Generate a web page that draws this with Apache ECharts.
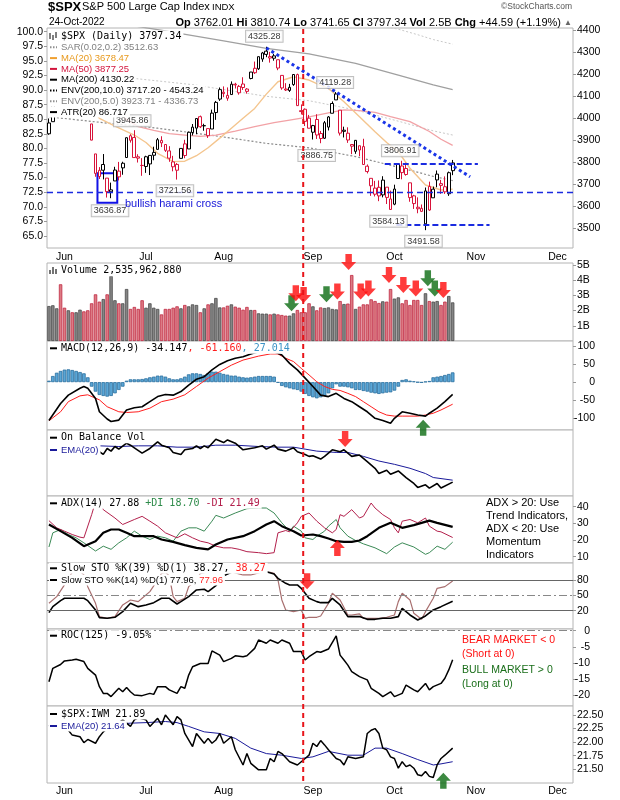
<!DOCTYPE html>
<html><head><meta charset="utf-8">
<script src="https://cdn.jsdelivr.net/npm/echarts@6/dist/echarts.min.js"></script>
<style>html,body{margin:0;padding:0;background:#fff}#c{width:620px;height:800px}</style>
</head><body><div id="c"></div>
<script>
// ---------------- DATA ----------------
const tradeDates = ['05-25','05-26','05-27','05-31','06-01','06-02','06-03','06-06','06-07','06-08','06-09','06-10','06-13','06-14','06-15','06-16','06-17','06-21','06-22','06-23','06-24','06-27','06-28','06-29','06-30','07-01','07-05','07-06','07-07','07-08','07-11','07-12','07-13','07-14','07-15','07-18','07-19','07-20','07-21','07-22','07-25','07-26','07-27','07-28','07-29','08-01','08-02','08-03','08-04','08-05','08-08','08-09','08-10','08-11','08-12','08-15','08-16','08-17','08-18','08-19','08-22','08-23','08-24','08-25','08-26','08-29','08-30','08-31','09-01','09-02','09-06','09-07','09-08','09-09','09-12','09-13','09-14','09-15','09-16','09-19','09-20','09-21','09-22','09-23','09-26','09-27','09-28','09-29','09-30','10-03','10-04','10-05','10-06','10-07','10-10','10-11','10-12','10-13','10-14','10-17','10-18','10-19','10-20','10-21','10-24'];
const prevClose0 = 3941.48;
const open = [3929.59,3984.60,4077.43,4151.09,4149.78,4095.41,4137.57,4134.72,4096.47,4147.12,4101.65,3974.39,3838.15,3763.52,3764.05,3728.18,3665.90,3715.31,3733.89,3774.71,3821.75,3920.76,3913.00,3825.09,3785.99,3781.00,3792.61,3831.98,3858.85,3888.26,3880.94,3851.95,3779.67,3763.99,3818.00,3883.79,3860.73,3935.32,3955.47,4007.36,3965.72,3953.22,3951.43,4026.13,4087.33,4112.38,4104.21,4107.96,4154.85,4115.87,4155.93,4133.11,4181.02,4227.40,4225.02,4269.37,4290.46,4280.40,4273.13,4266.31,4195.08,4133.09,4126.55,4153.26,4198.74,4034.58,4041.25,4000.67,3936.73,3994.66,3930.89,3909.43,3959.94,4022.94,4083.67,4037.12,3940.73,3932.41,3880.95,3849.91,3875.23,3871.40,3782.36,3727.14,3682.72,3686.44,3651.94,3687.01,3633.48,3609.78,3726.46,3753.25,3771.97,3706.74,3647.51,3595.86,3590.83,3520.37,3690.41,3638.65,3746.26,3703.11,3689.05,3657.10,3762.01];
const high = [3999.33,4075.14,4158.49,4168.34,4166.54,4177.51,4142.67,4168.78,4164.86,4160.14,4119.10,3974.39,3838.15,3778.18,3837.56,3728.18,3707.71,3779.65,3801.79,3802.58,3913.65,3927.72,3945.86,3836.50,3818.99,3829.82,3832.19,3870.91,3910.63,3918.50,3880.94,3873.41,3829.44,3796.41,3863.62,3902.44,3939.81,3974.13,3999.29,4012.44,3975.30,3953.22,4039.56,4078.95,4140.15,4144.95,4140.47,4167.66,4161.29,4151.58,4186.62,4137.30,4211.03,4257.91,4280.47,4301.79,4325.28,4302.18,4292.53,4266.31,4195.08,4159.77,4156.56,4200.54,4203.04,4062.99,4044.98,4015.37,3970.23,4018.43,3942.55,3987.89,4010.50,4076.81,4119.28,4037.12,3961.94,3959.14,3880.95,3900.45,3876.01,3907.07,3790.28,3727.14,3715.67,3717.53,3736.74,3687.01,3671.44,3698.35,3791.92,3806.91,3797.93,3706.74,3652.17,3640.66,3608.34,3685.41,3712.00,3689.73,3762.79,3720.06,3736.00,3757.89,3810.74];
const low = [3925.03,3984.60,4077.43,4104.88,4073.85,4074.37,4098.67,4109.18,4080.19,4107.20,4017.17,3900.16,3734.30,3724.17,3722.30,3639.77,3636.87,3715.31,3717.69,3743.52,3821.75,3889.66,3820.14,3799.02,3738.67,3752.10,3742.06,3809.37,3858.85,3869.34,3847.22,3802.36,3759.07,3721.56,3817.18,3818.63,3860.73,3922.03,3927.64,3955.77,3943.46,3910.74,3951.43,3992.97,4079.22,4096.02,4079.81,4107.96,4135.42,4107.31,4128.97,4112.09,4177.26,4201.41,4219.78,4256.90,4277.77,4253.08,4261.98,4218.70,4129.86,4124.03,4119.97,4147.59,4057.66,4017.42,3965.21,3954.53,3903.65,3906.21,3886.75,3906.03,3944.81,4022.94,4083.67,3921.73,3912.86,3888.28,3837.08,3838.50,3827.54,3789.49,3749.45,3647.47,3644.76,3623.29,3640.61,3610.40,3584.13,3604.93,3726.46,3722.66,3739.22,3620.73,3588.10,3568.45,3573.86,3491.58,3579.68,3638.65,3686.53,3656.44,3656.28,3647.42,3741.65];
const close = [3978.73,4057.84,4158.24,4132.15,4101.23,4176.82,4108.54,4121.43,4160.68,4115.77,4017.82,3900.86,3749.63,3735.48,3789.99,3666.77,3674.84,3764.79,3759.89,3795.73,3911.74,3900.11,3821.55,3818.83,3785.38,3825.33,3831.39,3845.08,3902.62,3899.38,3854.43,3818.80,3801.78,3790.38,3863.16,3830.85,3936.69,3959.90,3998.95,3961.63,3966.84,3921.05,4023.61,4072.43,4130.29,4118.63,4091.19,4155.17,4151.94,4145.19,4140.06,4122.47,4210.24,4207.27,4280.15,4297.14,4305.20,4274.04,4283.74,4228.48,4137.99,4128.73,4140.77,4199.12,4057.66,4030.61,3986.16,3955.00,3966.85,3924.26,3908.19,3979.87,4006.18,4067.36,4110.41,3932.69,3946.01,3901.35,3873.33,3899.89,3855.93,3789.93,3757.99,3693.23,3655.04,3647.29,3719.04,3640.47,3585.62,3678.43,3790.93,3783.28,3744.52,3639.66,3612.39,3588.84,3577.03,3669.91,3583.07,3677.95,3719.98,3695.16,3665.78,3752.75,3797.34];
// volume, billions
const volume = [2.30,2.35,2.15,3.73,2.19,2.02,1.89,1.89,2.06,1.95,2.02,2.48,3.07,2.59,2.76,3.07,4.28,2.68,2.48,2.48,3.42,2.11,2.24,2.11,2.68,2.19,2.48,2.19,2.11,1.75,2.11,2.11,2.19,2.28,2.15,2.37,2.28,2.41,2.37,1.89,2.15,2.41,2.48,2.83,2.21,2.21,2.32,2.41,2.26,2.19,2.06,2.24,2.04,2.04,1.82,1.80,1.80,1.75,1.80,1.75,1.71,1.67,1.67,1.82,2.04,1.89,1.89,2.48,2.28,2.02,2.21,2.17,2.21,2.11,2.08,2.63,2.43,2.46,4.34,2.11,2.26,2.41,2.41,2.74,2.63,2.50,2.61,2.59,3.42,2.79,2.87,2.48,2.70,2.37,2.70,2.70,2.37,3.14,2.63,2.59,2.63,2.37,2.59,2.96,2.54];
// overlays [day index, value]
const ma20 = [[8,4065],[11,4045],[13,4000],[17,3965],[22,3924],[25,3890],[28,3841],[32,3803],[35,3805],[38,3830],[41,3866],[44,3910],[47,3955],[50,4000],[53,4045],[56,4110],[59,4166],[63,4189],[67,4174],[70,4150],[72,4136],[76,4075],[80,4007],[84,3939],[87,3890],[90,3848],[93,3773],[97,3697],[101,3674],[104,3678]];
const ma50 = [[10,4110],[15,4060],[20,3995],[23,3962],[27,3945],[31,3930],[35,3924],[39,3918],[43,3924],[48,3942],[53,3962],[58,3980],[62,3992],[67,4007],[72,4025],[76,4038],[80,4035],[84,4027],[88,4008],[93,3985],[98,3940],[101,3905],[104,3877]];
const ma200 = [[22,4420],[30,4397],[34,4385],[45,4352],[56,4318],[67,4293],[79,4250],[90,4196],[99,4152],[104,4130]];
const env10Lower = [[0,4007],[14,3980],[28,3955],[45,3915],[56,3886],[67,3866],[79,3826],[90,3778],[99,3736],[104,3717]];
const env5Lower = [[0,4228],[20,4185],[37,4153],[56,4100],[67,4080],[79,4038],[90,3987],[99,3943],[104,3924]];
const env5Upper = [[87,4415],[90,4405],[95,4380],[99,4358],[104,4337]];
// annotations
const trendLine = [[56,4320],[108.5,3734]];
const supportLevel = 3662;
const resistSeg = [[86.5,3793],[110.5,3793]];
const lowSeg = [[89.5,3515],[113.5,3515]];
const haramiBox = [[12.5,3750],[17.6,3616]];
const noteIdx = [56,23,16,34,70,74,91,88,97];
const noteVal = [4325.28,3945.86,3636.87,3721.56,3886.75,4119.28,3806.91,3584.13,3491.58];
const markerDay = 65.5;
// MACD
const macdLine = [[0,-106],[3,-59],[5,-36],[8,-17],[9,-12],[10,-17],[12,-45],[13,-82],[15,-102],[16,-109],[18,-105],[20,-77],[22,-71],[24,-68],[26,-54],[28,-40],[30,-34],[32,-36],[34,-26],[36,-8],[38,8],[40,15],[42,34],[44,49],[46,59],[48,66],[50,70],[52,78],[54,84],[56,88],[58,84],[60,75],[62,52],[64,34],[66,11],[68,-12],[70,-36],[72,-40],[74,-31],[76,-45],[78,-54],[80,-68],[82,-82],[84,-100],[86,-106],[88,-114],[89,-100],[91,-82],[93,-86],[95,-91],[97,-94],[98,-86],[100,-72],[101,-63],[102,-54],[104,-34]];
const macdSignal = [[0,-107],[3,-82],[5,-54],[8,-38],[10,-35],[13,-49],[15,-68],[18,-82],[20,-84],[23,-82],[26,-72],[29,-54],[32,-47],[35,-35],[38,-12],[41,11],[44,29],[47,47],[50,61],[54,72],[57,78],[59,78],[61,66],[63,57],[65,38],[67,20],[69,1],[71,-12],[73,-20],[75,-23],[77,-31],[79,-40],[81,-54],[83,-68],[85,-82],[87,-91],[89,-94],[91,-94],[93,-94],[95,-94],[97,-91],[99,-86],[101,-77],[104,-61]];
const macdHist = [4,17,26,31,34.6,35.5,33.6,31,28,24.4,13.4,-12.5,-26.3,-35.5,-38.3,-40.1,-38.3,-31,-21.7,-12.5,4,7.8,7.8,7.8,8.7,10.6,13.4,15.2,18,18,15.2,10.6,7.8,7.8,10.6,15.2,21.6,24.4,24.4,22.6,19.8,24.4,29,29,26,22.6,20.7,18,18,15.2,13.4,12.4,13.4,15.2,17,17,17,17,15.2,-1.4,-10.6,-14.3,-17.1,-19.9,-21.7,-26.3,-32.7,-38.3,-42,-44.8,-42,-38.3,-31,-17.1,-6,-12.5,-12.5,-14.3,-17.1,-21.7,-21.7,-24.5,-26.3,-29.1,-31,-32.7,-31,-29.1,-28.2,-23.5,-12.5,6,7.8,4,2.3,-0.5,-1.4,1.4,3.2,13.4,15.2,17,19.8,22.6,27];
// On Balance Volume (relative units, no scale shown)
const obv = [[13,67],[14,63],[15,72],[16,68],[17,75],[18,71],[20,80],[21,77],[22,73],[24,65],[26,72],[28,82],[29,77],[31,73],[32,66],[34,63],[35,70],[37,72],[38,76],[39,72],[40,76],[41,73],[43,86],[45,81],[46,85],[48,80],[50,70],[53,73],[55,76],[56,71],[58,77],[59,71],[61,68],[63,73],[64,67],[66,63],[67,60],[68,61],[70,56],[71,60],[73,70],[75,67],[76,70],[78,60],[80,62],[82,52],[84,42],[85,34],[87,39],[88,33],[90,38],[92,28],[94,19],[95,13],[97,17],[98,12],[100,19],[101,12],[104,21]];
const obvEma = [[13,76],[18,75],[23,76],[28,76],[33,74],[38,74],[43,77],[48,77],[54,75],[59,74],[63,74],[66,71],[69,68],[74,66],[77,66],[81,60],[85,53],[89,48],[93,42],[97,34],[99,28],[104,24]];
// ADX
const adx = [[0,29.3],[3,25.3],[6,21.3],[9,16.3],[12,19.3],[14,24.3],[16,26.3],[18,26.3],[20,24.3],[22,22.3],[24,22.3],[27,22.3],[29,20.3],[32,18.9],[35,16.9],[38,15.3],[41,14.4],[43,17.3],[46,20.3],[50,22.3],[53,25.3],[56,29.3],[58,31.3],[60,28.3],[63,25.3],[65,22.7],[68,23.3],[70,22.3],[72,20.9],[74,19.3],[76,18.9],[78,18.9],[80,19.7],[82,22.3],[85,27.3],[88,30.3],[91,27.3],[94,28.9],[98,31.6],[100,30.3],[104,27.9]];
const plusDI = [[0,15.8],[1,24.3],[3,26.3],[5,23.3],[7,21.3],[9,18.3],[12,13.4],[14,16.3],[16,14.4],[18,18.3],[20,21.3],[22,25.3],[24,22.3],[26,20.3],[28,22.3],[30,21.3],[32,19.3],[34,25.3],[36,27.3],[38,27.3],[40,25.3],[42,31.3],[43,34.8],[45,33.2],[48,36.2],[51,38.8],[54,39.2],[56,39.2],[58,36.2],[60,30.3],[62,25.3],[63,28.3],[65,25.3],[66,21.3],[68,20.3],[69,22.3],[71,25.3],[72,28.3],[74,32.3],[75,27.3],[77,22.3],[79,19.7],[81,17.7],[84,15.3],[87,11.8],[89,15.8],[91,18.3],[94,15.8],[97,11.4],[98,12.4],[100,16.3],[102,14.4],[104,18.7]];
const minusDI = [[0,31.6],[2,27.3],[4,25.3],[6,23.3],[8,21.7],[9,21.3],[11,35.2],[12,43],[13,44],[14,38.2],[17,33.2],[19,29.3],[22,32.3],[24,34.2],[26,31.3],[28,28.3],[30,24.3],[33,21.3],[35,23.7],[37,21.3],[39,19.3],[41,18.3],[43,16.3],[45,15.3],[47,15.3],[49,14.4],[51,13],[54,12.4],[56,11.8],[58,12.4],[59,24.3],[61,25.7],[62,24.9],[64,30.3],[65,34.2],[67,36.2],[69,31.3],[71,27.3],[73,24.3],[74,26.3],[75,35.2],[76,34.2],[78,38.2],[80,33.2],[81,34.2],[83,42.2],[84,39.2],[86,35.2],[88,32.3],[89,27.3],[90,24.3],[91,31.3],[93,32.3],[95,30.3],[97,33.2],[98,28.3],[100,25.3],[101,24.9],[104,21.5]];
// Slow stochastics
const sto39 = [[0,16.2],[1,27.9],[3,39.6],[4,44.2],[6,44.2],[9,44.2],[10,39.6],[12,21.4],[13,6.4],[15,5.1],[17,7.1],[19,18.1],[21,34.4],[23,27.9],[25,31.2],[27,35.7],[29,44.2],[31,44.2],[33,33.1],[34,37.7],[36,47.4],[38,60.5],[40,61.8],[41,57.2],[43,69],[44,78],[45,88],[47,95],[50,97],[53,98],[56,96],[58,91.7],[59,83.3],[61,73.5],[62,70.3],[64,70.3],[65,63.7],[66,54],[67,44.2],[69,37.7],[70,35.7],[72,35.7],[73,44.2],[75,31.2],[77,8.4],[78,8.4],[80,8.4],[82,3.1],[84,3.1],[86,5.1],[88,5.1],[90,8.4],[91,24.6],[93,11.6],[95,1.8],[97,9.7],[99,21.4],[101,27.9],[104,38.3]];
const sto14 = [[0,34.4],[2,47.4],[4,70.3],[5,83.3],[6,95],[8,97],[9,90],[10,67],[12,34.4],[13,8.4],[15,5.1],[17,8.4],[19,31.2],[21,40.9],[23,37.7],[24,44.2],[26,57.2],[28,80],[29,93],[30,95],[31,88],[32,47.4],[33,37.7],[35,44.2],[36,67],[38,80],[39,93],[41,96],[43,95],[45,97],[47,96],[49,92],[50,89.8],[52,89.8],[53,92],[55,96],[57,95],[58,93],[59,80],[60,41],[61,21.4],[63,18.1],[65,21.4],[66,5.1],[67,7.1],[69,7.1],[70,9.7],[72,34.4],[73,54],[75,41],[77,11.6],[78,11.6],[80,13.6],[81,5.1],[83,5.1],[85,5.1],[87,7.1],[89,11.6],[90,37.7],[91,54],[93,41],[94,14.9],[96,3.1],[97,18.1],[99,44.2],[100,63.7],[102,67],[104,78]];
// ROC(125)
const roc = [[0,-15.9],[1,-11.7],[3,-10.5],[4,-9.4],[6,-9.1],[7,-8.9],[9,-9.6],[10,-11.7],[12,-13.8],[13,-17.4],[14,-19.5],[15,-19.5],[16,-20.5],[18,-17.9],[19,-19],[20,-17.7],[21,-19],[22,-20],[24,-20.2],[26,-19.5],[27,-19.8],[28,-17.4],[30,-17.4],[31,-18.4],[33,-19.5],[34,-17.4],[35,-17.9],[36,-13.8],[37,-11.2],[39,-10.2],[41,-10.2],[42,-6.3],[44,-7.6],[45,-9.6],[47,-8.6],[48,-7.8],[50,-8.1],[51,-7.8],[53,-5.5],[54,-2.9],[56,-3.9],[57,-2.9],[59,-3.9],[60,-2.9],[62,-3.9],[63,-6.5],[65,-6.5],[66,-9.1],[67,-8.1],[69,-6.5],[70,-6.7],[72,-5.7],[74,-1.6],[75,-7.6],[76,-9.1],[77,-10.7],[78,-12.7],[80,-14.3],[82,-15.3],[83,-17.9],[85,-19.5],[86,-20.5],[88,-19],[89,-20.5],[91,-19.5],[92,-16.9],[94,-18.4],[95,-19],[97,-16.4],[98,-18.4],[99,-17.4],[101,-16.4],[102,-14.8],[103,-12.2],[104,-9.05]];
// $SPX:IWM ratio
const ratio = [[0,22.3],[2,22.32],[4,22.27],[5,22.22],[6,22.13],[8,22.1],[9,21.99],[10,22.05],[12,21.98],[13,22.1],[14,22.19],[15,22.25],[17,22.3],[19,22.41],[21,22.29],[22,22.41],[23,22.45],[24,22.43],[25,22.41],[26,22.29],[28,22.44],[29,22.32],[30,22.5],[31,22.41],[32,22.32],[33,22.47],[34,22.41],[35,22.16],[37,21.92],[38,22.16],[40,21.98],[41,22.07],[42,21.98],[43,22.04],[44,22.16],[45,21.98],[47,22.1],[48,21.86],[50,21.58],[51,21.79],[52,21.61],[54,21.49],[56,21.49],[57,21.7],[58,21.64],[59,21.83],[60,21.79],[62,21.64],[64,21.58],[65,21.64],[66,21.7],[67,21.76],[68,21.98],[69,21.92],[70,22.03],[71,21.95],[72,21.86],[74,21.7],[75,21.67],[76,21.58],[77,21.73],[79,21.7],[81,21.73],[82,22.16],[83,22.22],[84,22.25],[85,22.16],[86,21.89],[87,21.86],[88,21.73],[89,21.7],[90,21.52],[91,21.64],[92,21.55],[93,21.58],[94,21.52],[95,21.4],[96,21.38],[97,21.46],[98,21.37],[99,21.35],[100,21.58],[101,21.7],[102,21.76],[104,21.89]];
const ratioEma = [[0,22.3],[10,22.32],[19,22.34],[21,22.35],[25,22.36],[30,22.38],[33,22.36],[36,22.29],[40,22.19],[44,22.16],[48,22.07],[52,21.89],[56,21.79],[60,21.76],[65,21.7],[68,21.73],[72,21.83],[77,21.76],[81,21.76],[84,21.89],[87,21.89],[91,21.79],[95,21.68],[99,21.58],[101,21.6],[104,21.64]];
// signal arrows
const volSigIdx = [62.5,63.6,65.6,71.5,74.3,77.2,80.3,82.3,87.6,91.3,94.5,97.6,99.4,101.6];
const volSigVal = [2.48,3.14,3.03,3.07,3.25,5.2,3.25,3.46,4.34,3.68,3.46,4.12,3.46,3.36];
const volSigType = ['buy','sell','sell','buy','sell','sell','sell','sell','sell','sell','sell','buy','buy','sell'];
const macdSig = [96.4,-126.5], obvSig = [76.3,86.4], adxSig = [74.3,15.2], stoSig = [66.5,77.5], ratioSig = [101.6,21.29];
// axis ticks
const monthIdx = [4,25,45,68,89,110,131];
const monthNames = ['Jun','Jul','Aug','Sep','Oct','Nov','Dec'];
const priceTicks = [3500,3600,3700,3800,3900,4000,4100,4200,4300,4400];
const pctTicks = [65,67.5,70,72.5,75,77.5,80,82.5,85,87.5,90,92.5,95,97.5,100];
const volTicks = [1,2,3,4,5];
const macdTicks = [-100,-50,0,50,100];
const adxTicks = [10,20,30,40];
const stoTicks = [20,50,80];
const rocTicks = [-20,-15,-10,-5,0];
const ratioTicks = [21.5,21.75,22,22.25,22.5];

// ---------------- CHART ----------------
const FS = '"Liberation Sans", Arial, sans-serif';
const MONO = '"DejaVu Sans Mono", monospace';
const RED = '#d8133a';
const panels = [[28,220],[263,78],[341,89],[430,66],[496,67],[563,66],[629,77],[706,77]];
const grid = panels.map(p => ({left:47, right:47, top:p[0], height:p[1], show:true, borderColor:'#b4b4b4', borderWidth:1, backgroundColor:'#fff'}));
const xAxis = panels.map((p,k) => {
  const lab = (k === 0 || k === 7);
  return {type:'value', gridIndex:k, min:-0.5, max:135, show: lab,
    axisLine:{show:false, onZero:false}, axisTick:{show:false}, splitLine:{show:false},
    axisLabel:{show: lab, customValues: monthIdx, formatter: v => { const j = monthIdx.indexOf(v); return j >= 0 ? monthNames[j] : ''; },
      fontSize:10.5, fontFamily:FS, color:'#000', margin: k === 0 ? 4 : 3}};
});
function yAx(g, min, max, vals, fmt, opt) {
  opt = opt || {};
  const a = {type:'value', gridIndex:g, min, max, position: opt.pos || 'right', splitLine:{show:false}, axisLine:{show:false, onZero:false}};
  if (vals) {
    a.axisTick = {show:true, length:3, lineStyle:{color:'#999'}, customValues: vals};
    a.axisLabel = {show:true, customValues: vals, formatter: fmt, fontSize:10.5, fontFamily:FS, color:'#000',
      margin: opt.margin != null ? opt.margin : 4, align: opt.align || (opt.pos === 'left' ? 'right' : 'left')};
  } else { a.axisTick = {show:false}; a.axisLabel = {show:false}; }
  return a;
}
const yAxis = [
  yAx(0, 3410.5, 4410.5, priceTicks, v => String(v)),
  yAx(0, 62.94, 100.63, pctTicks, v => v.toFixed(1), {pos:'left', margin:4}),
  yAx(1, 0, 5.13, volTicks, v => v + 'B'),
  yAx(2, -132.4, 113.8, macdTicks, v => String(v), {align:'right', margin:22}),
  yAx(3, 0, 100, null),
  yAx(4, 6.2, 46.4, adxTicks, v => String(v)),
  yAx(5, -15.8, 113.2, stoTicks, v => String(v)),
  yAx(6, -23.42, 0.53, rocTicks, v => String(v), {align:'right', margin:17}),
  yAx(7, 21.248, 22.666, ratioTicks, v => v.toFixed(2))
];
const YI = [0,2,3,4,5,6,7,8];
function ln(g, data, color, width, type, z) {
  return {type:'line', xAxisIndex:g, yAxisIndex:YI[g], data, symbol:'none', showSymbol:false, silent:true,
    lineStyle:{color, width, type: type || 'solid'}, z: z || 2};
}
const DOWN = 'path://M4,0L10,0L10,8L14,8L7,16L0,8L4,8Z';
const UP = 'path://M7,0L14,8L10,8L10,16L4,16L4,8L0,8Z';
function arrows(g, pts, dir, colors) {
  return {type:'scatter', xAxisIndex:g, yAxisIndex:YI[g], clip:false, silent:true, z:20,
    symbol: dir, symbolSize:[15,16],
    data: pts.map((p,k) => ({value:p, itemStyle:{color: colors[k]}}))};
}
const candleData = open.map((o,i) => {
  const pc = i === 0 ? prevClose0 : close[i-1];
  const col = close[i] >= pc ? '#000' : RED;
  return {value:[i, o, close[i], low[i], high[i]], itemStyle:{color:'#fff', color0:col, borderColor:col, borderColor0:col, borderWidth:1}};
});
const volData = volume.map((v,i) => {
  const pc = i === 0 ? prevClose0 : close[i-1];
  const up = close[i] >= pc;
  return {value:[i, v], itemStyle:{color: up ? '#858585' : '#dc7b84', borderColor: up ? '#4a4a4a' : '#c02a42', borderWidth:0.8}};
});
const noteOffsets = [[-2,-10.5],[-6,-9.4],[-1,12.6],[-6,11.2],[-4,12.2],[-1,-9.6],[-2,-10],[-2,11.5],[-2,11]];

const series = [
  ln(0, env5Lower, '#c8c8c8', 1, [2,2], 1),
  ln(0, env5Upper, '#c8c8c8', 1, [2,2], 1),
  ln(0, env10Lower, '#8a8a8a', 1.2, [2,2], 1),
  ln(0, ma200, '#a0a0a0', 1.3, 'solid', 1),
  ln(0, ma50, '#f2a2a6', 1.3, 'solid', 1),
  ln(0, ma20, '#f4c58e', 1.4, 'solid', 1),
  {type:'candlestick', xAxisIndex:0, yAxisIndex:0, data: candleData, encode:{x:0, y:[1,2,3,4]}, barWidth:3.2, z:3, silent:true,
    markLine:{symbol:'none', silent:true, label:{show:false}, animation:false, data:[
      {yAxis: supportLevel, lineStyle:{color:'#1a2be0', width:1.4, type:[6,4]}},
      [{coord: trendLine[0], lineStyle:{color:'#1a35e8', width:3, type:[3,3]}}, {coord: trendLine[1]}],
      [{coord: resistSeg[0], lineStyle:{color:'#1a2be0', width:2, type:[6,3]}}, {coord: resistSeg[1]}],
      [{coord: lowSeg[0], lineStyle:{color:'#1a2be0', width:2, type:[6,3]}}, {coord: lowSeg[1]}]
    ]},
    markArea:{silent:true, itemStyle:{color:'rgba(0,0,0,0)', borderColor:'#1212e6', borderWidth:2},
      data:[[{coord: haramiBox[0]}, {coord: haramiBox[1]}]]}
  },
  {type:'scatter', xAxisIndex:0, yAxisIndex:0, symbolSize:1, silent:true, z:15, itemStyle:{color:'rgba(0,0,0,0)'},
    data: noteIdx.map((x,k) => ({value:[x, noteVal[k]], label:{offset: noteOffsets[k]}})),
    label:{show:true, position:'inside', formatter: p => p.value[1].toFixed(2), fontSize:9, fontFamily:FS, color:'#000',
      backgroundColor:'#fff', borderColor:'#b0b0b0', borderWidth:1, padding:[1,2,0,2], lineHeight:10}},
  {type:'bar', xAxisIndex:1, yAxisIndex:2, data: volData, barWidth:3.4, silent:true},
  arrows(1, volSigIdx.map((x,k) => [x, volSigVal[k]]), DOWN, volSigType.map(t => t === 'buy' ? '#0b6b12' : '#ff0a0a')),
  {type:'bar', xAxisIndex:2, yAxisIndex:3, data: macdHist.map((v,i) => [i, v]), barWidth:3.6, silent:true,
    itemStyle:{color:'#5aa6d6', borderColor:'#2a6f9e', borderWidth:0.8}},
  ln(2, macdSignal, '#ff1e1e', 1),
  ln(2, macdLine, '#000', 1.6, 'solid', 3),
  arrows(2, [macdSig], UP, ['#0b6b12']),
  ln(3, obvEma, '#1a1a9a', 1),
  ln(3, obv, '#000', 1.6, 'solid', 3),
  arrows(3, [obvSig], DOWN, ['#ff0a0a']),
  ln(4, plusDI, '#3b8a56', 1),
  ln(4, minusDI, '#b3204c', 1),
  ln(4, adx, '#000', 2.2, 'solid', 3),
  arrows(4, [adxSig], UP, ['#ff0a0a']),
  Object.assign(ln(5, sto14, '#a86f6f', 1.2), {markLine:{symbol:'none', silent:true, label:{show:false}, data:[
      {yAxis:80, lineStyle:{color:'#666', width:1, type:'solid'}},
      {yAxis:50, lineStyle:{color:'#888', width:1, type:[8,3,2,3]}},
      {yAxis:20, lineStyle:{color:'#666', width:1, type:'solid'}}]}}),
  ln(5, sto39, '#000', 1.6, 'solid', 3),
  arrows(5, [stoSig], DOWN, ['#ff0a0a']),
  Object.assign(ln(6, roc, '#000', 1.5), {markLine:{symbol:'none', silent:true, label:{show:false}, data:[
      {yAxis:0, lineStyle:{color:'#888', width:1, type:[8,3,2,3]}}]}}),
  ln(7, ratioEma, '#1a1a9a', 1),
  ln(7, ratio, '#000', 1.5, 'solid', 3),
  arrows(7, [ratioSig], UP, ['#0b6b12'])
];

// ---------------- TEXT (graphic) ----------------
const G = [];
function T(x, y, text, font, fill, extra) {
  G.push({type:'text', z:100, silent:true, style:Object.assign({x, y, text, font, fill, align:'left', verticalAlign:'middle'}, extra || {})});
}
function L(x1, y1, x2, y2, color, w, dash) {
  G.push({type:'line', z:101, silent:true, shape:{x1, y1, x2, y2}, style:{stroke:color, lineWidth:w, lineDash: dash || null}});
}
const BG = {backgroundColor:'#fff', padding:[1,2,0,12]};
// header
T(48, 7, '$SPX', 'bold 13px ' + FS, '#000');
T(82, 7, 'S&P 500 Large Cap Index', '11px ' + FS, '#000');
T(212, 7.5, 'INDX', '9.5px ' + FS, '#000');
T(572, 7, '\u00A9StockCharts.com', '8.5px ' + FS, '#555', {align:'right'});
T(49, 22.5, '24-Oct-2022', '10px ' + FS, '#000');
T(572, 22.5, '{b|Op} {n|3762.01} {b|Hi} {n|3810.74} {b|Lo} {n|3741.65} {b|Cl} {n|3797.34} {b|Vol} {n|2.5B} {b|Chg} {n|+44.59 (+1.19%)} {t|\u25B2}',
  '11px ' + FS, '#000', {align:'right', rich:{b:{font:'bold 11px ' + FS, fill:'#000'}, n:{font:'11px ' + FS, fill:'#000'}, t:{font:'8px ' + FS, fill:'#666'}}});
// price legend
const pl = [
  ['SAR(0.02,0.2) 3512.63', '#808080', '#909090', [1.5,1.5]],
  ['MA(20) 3678.47', '#e8991c', '#f0a030', null],
  ['MA(50) 3877.25', '#d2143c', '#d2143c', null],
  ['MA(200) 4130.22', '#000', '#000', null],
  ['ENV(200,10.0) 3717.20 - 4543.24', '#000', '#000', [1.5,1.5]],
  ['ENV(200,5.0) 3923.71 - 4336.73', '#808080', '#909090', [1.5,1.5]],
  ['ATR(20) 86.717', '#000', '#000', null]
];
T(49, 36, '$SPX (Daily) 3797.34', '10px ' + MONO, '#000', BG);
L(50, 39, 50, 33, '#000', 1); L(53, 40, 53, 35, '#000', 1); L(56, 38, 56, 32, '#000', 1);
pl.forEach((r, k) => {
  const y = 47.3 + k * 10.8;
  T(49, y, r[0], '9.5px ' + FS, r[1], {backgroundColor:'#fff', padding:[1,2,0,12]});
  L(50, y, 57, y, r[2], 2, r[3]);
});
T(125, 203.5, 'bullish harami cross', '11px ' + FS, '#1515d8');
// lower panel legends
T(49, 270.7, 'Volume 2,535,962,880', '10px ' + MONO, '#000', BG);
L(50, 274, 50, 270, '#444', 1.5); L(53, 274, 53, 267, '#444', 1.5); L(56, 274, 56, 269, '#444', 1.5);
T(49, 348.3, '{a|MACD(12,26,9) -34.147}{r|, -61.160}{c|, 27.014}', '10px ' + MONO, '#000',
  Object.assign({rich:{a:{font:'10px ' + MONO, fill:'#000'}, r:{font:'10px ' + MONO, fill:'#ff1e1e'}, c:{font:'10px ' + MONO, fill:'#3a93c6'}}}, BG));
L(50, 348.3, 57, 348.3, '#000', 2);
T(49, 437.7, 'On Balance Vol', '10px ' + MONO, '#000', BG);
L(50, 437.7, 57, 437.7, '#000', 2);
T(49, 450, 'EMA(20)', '9.5px ' + FS, '#1a1a9a', BG);
L(50, 450, 57, 450, '#1a1a9a', 2);
T(49, 503.3, '{a|ADX(14) 27.88 }{g|+DI 18.70 }{m|-DI 21.49}', '10px ' + MONO, '#000',
  Object.assign({rich:{a:{font:'10px ' + MONO, fill:'#000'}, g:{font:'10px ' + MONO, fill:'#2e8b4a'}, m:{font:'10px ' + MONO, fill:'#b3204c'}}}, BG));
L(50, 503.3, 57, 503.3, '#000', 2);
T(486, 496.8, 'ADX > 20: Use\nTrend Indicators,\nADX < 20: Use\nMomentum\nIndicators', '11px ' + FS, '#000', {verticalAlign:'top', lineHeight:12.9});
T(49, 568.3, '{a|Slow STO %K(39) %D(1) 38.27, }{r|38.27}', '10px ' + MONO, '#000',
  Object.assign({rich:{a:{font:'10px ' + MONO, fill:'#000'}, r:{font:'10px ' + MONO, fill:'#ff1e1e'}}}, BG));
L(50, 568.3, 57, 568.3, '#000', 2);
T(49, 580, '{a|Slow STO %K(14) %D(1) 77.96, }{r|77.96}', '9.5px ' + FS, '#000',
  Object.assign({rich:{a:{font:'9.5px ' + FS, fill:'#000'}, r:{font:'9.5px ' + FS, fill:'#ff1e1e'}}}, BG));
L(50, 580, 57, 580, '#000', 2);
T(49, 635.7, 'ROC(125) -9.05%', '10px ' + MONO, '#000', BG);
L(50, 635.7, 57, 635.7, '#000', 2);
T(462, 640, 'BEAR MARKET < 0', '10.5px ' + FS, '#ff1010');
T(462, 654, '(Short at 0)', '10.5px ' + FS, '#ff1010');
T(462, 670, 'BULL MARKET > 0', '10.5px ' + FS, '#1a6e1a');
T(462, 684.3, '(Long at 0)', '10.5px ' + FS, '#1a6e1a');
T(49, 714, '$SPX:IWM 21.89', '10px ' + MONO, '#000', BG);
L(50, 714, 57, 714, '#000', 2);
T(49, 726, 'EMA(20) 21.64', '9.5px ' + FS, '#1a1a9a', BG);
L(50, 726, 57, 726, '#1a1a9a', 2);

const chart = echarts.init(document.getElementById('c'), null, {renderer:'canvas', width:620, height:800});
chart.setOption({animation:false, backgroundColor:'#fff', grid, xAxis, yAxis, series, graphic: G});
const px = chart.convertToPixel({xAxisIndex:0}, markerDay);
G.push({type:'line', z:150, silent:true, shape:{x1:px, y1:29, x2:px, y2:783}, style:{stroke:'#e8141a', lineWidth:2, lineDash:[5,4]}});
chart.setOption({graphic: G});
</script></body></html>
